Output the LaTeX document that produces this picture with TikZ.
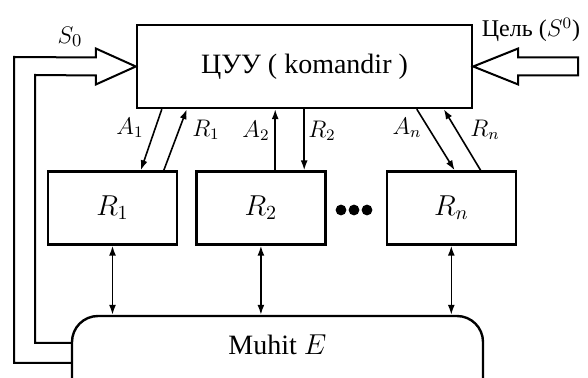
\documentclass[tikz,border=0pt]{standalone}
\usepackage{fontspec}
\setmainfont{Liberation Serif}
\usetikzlibrary{arrows.meta,positioning,calc}

\begin{document}
\begin{tikzpicture}[x=0.5pt, y=-0.5pt,
  ctrl/.style={draw, line width=1.2pt, minimum width=167.5pt, minimum height=41.5pt,
               font=\fontsize{14}{16}\selectfont},
  unit/.style={draw, line width=1.2pt, minimum width=64.5pt, minimum height=36.5pt,
               font=\fontsize{14}{16}\selectfont},
  envbox/.style={draw, line width=1.2pt, rounded corners=13pt, minimum width=205.5pt,
                 minimum height=50pt},
  hollow/.style={draw, line width=1pt, line join=miter},
  sig/.style={line width=0.8pt, -{Latex[length=5pt,width=3.5pt]}},
  dsig/.style={line width=0.8pt, {Latex[length=5pt,width=3.5pt]}-{Latex[length=5pt,width=3.5pt]}},
  lbl/.style={font=\fontsize{12}{14}\selectfont, inner sep=1pt}]
  \useasboundingbox (0,0) rectangle (588,378);

  % control unit and executors
  \node[ctrl] (cuu) at (304.5,66.5) {ЦУУ ( komandir )};
  \node[unit] (r1) at (112.5,208) {$R_1$};
  \node[unit, right=8.5pt of r1] (r2) {$R_2$};
  \node[unit, right=29.5pt of r2] (rn) {$R_n$};
  \node[envbox] (env) at (277.5,366) {};
  \node[font=\fontsize{14}{16}\selectfont] (envtxt) at (277.5,345) {Muhit $E$};

  % dots between R2 and Rn
  \foreach \x in {341,354,367}
    \fill (\x,210) circle (2.7pt);

  % feedback loop from the environment
  \draw[hollow] ([yshift=1.5pt]env.west) -| (14,57) -- ($(cuu.west)+(-40,-9)$)
    -- ($(cuu.west)+(-40,-18)$) -- (cuu.west) -- ($(cuu.west)+(-40,18)$)
    -- ($(cuu.west)+(-40,9)$) -- (35,75) |- ([yshift=11.5pt]env.west);
  \node[lbl, font=\fontsize{13}{15}\selectfont] (s0) at (70,37) {$S_0$};

  % goal input
  \draw[hollow] (cuu.east) -- ++(45,-18) -- ++(0,9) -- ++(60,0) -- ++(0,18)
    -- ++(-60,0) -- ++(0,9) -- cycle;
  \node[lbl] (goal) at (531,30) {Цель ($S^0$)};

  % commands and reports
  \coordinate (a2b) at ($(r2.north west)+(80,0)$);
  \coordinate (r2b) at ($(r2.north west)+(109,0)$);
  \draw[sig] ($(cuu.south west)+(26,0)$) -- ($(r1.north west)+(94,0)$);
  \draw[sig] ($(r1.north west)+(117,0)$) -- ($(cuu.south west)+(51,0)$);
  \draw[sig] (a2b) -- (a2b |- cuu.south);
  \draw[sig] (r2b |- cuu.south) -- (r2b);
  \draw[sig] ($(cuu.south west)+(281,0)$) -- ($(rn.north west)+(69,0)$);
  \draw[sig] ($(rn.north west)+(95,0)$) -- ($(cuu.south west)+(308,0)$);
  \node[lbl] (a1) at (130,128) {$A_1$};
  \node[lbl] (l1) at (206,130) {$R_1$};
  \node[lbl] (a2) at (256,131) {$A_2$};
  \node[lbl] (l2) at (322,131) {$R_2$};
  \node[lbl] (an) at (407,128) {$A_n$};
  \node[lbl] (ln) at (485,130) {$R_n$};

  % links to the environment
  \foreach \r in {r1,r2,rn}
    \draw[dsig] (\r.south) -- (\r.south |- env.north);
\end{tikzpicture}
\end{document}
